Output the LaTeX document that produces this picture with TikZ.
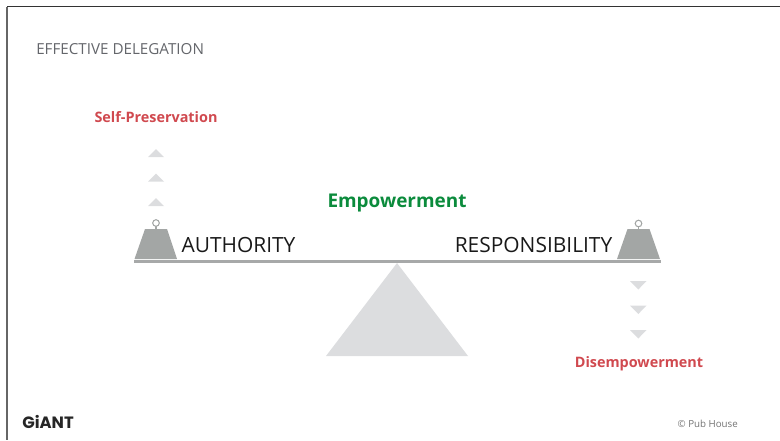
\documentclass[tikz,border=0pt]{standalone}
\usepackage{fontspec}
\setmainfont{Open Sans}
\newfontfamily\logofont{Poppins}
\definecolor{beamgray}{HTML}{A7A9A9}
\definecolor{weightgray}{HTML}{A3A6A5}
\definecolor{palegray}{HTML}{DCDDDF}
\definecolor{titlegray}{HTML}{64666B}
\definecolor{lossred}{HTML}{D0494F}
\definecolor{gaingreen}{HTML}{0B8B3C}
\tikzset{
  sidelabel/.style={inner sep=0pt,anchor=base,text=black!90,font=\fontsize{15.7}{18}\selectfont},
  lossl/.style={inner sep=0pt,anchor=base,text=lossred,font=\fontsize{10.8}{13}\selectfont\bfseries},
  weightshape/.style={fill=weightgray,draw=none},
  ringshape/.style={draw=weightgray,line width=0.8pt,fill=white},
  marker/.style={fill=palegray,draw=none}
}
\begin{document}
\begin{tikzpicture}[x=0.75pt,y=-0.75pt]
    \useasboundingbox (0,0) rectangle (780,440);

    % frame
    \draw[black!80,line width=1pt] (7,6.5) -- (780,6.5);
    \draw[black!60,line width=1pt] (7,6.5) -- (7,440);

    \node[inner sep=0pt,anchor=base west,text=titlegray,font=\fontsize{11.4}{13}\selectfont] (title) at (36,54) {EFFECTIVE DELEGATION};

    % scale
    \fill[palegray] (397,263) -- (468,356) -- (326,356) -- cycle;
    \draw[beamgray,line width=1.9pt] (134,261.5) -- (661,261.5);

    % left weight
    \draw[weightgray,line width=0.8pt] (156,226) -- (156,229);
    \draw[ringshape] (156,223) circle (3.3);
    \fill[weightshape] (145,229) -- (167,229) -- (177,259) -- (134.5,259) -- cycle;
    % right weight
    \draw[weightgray,line width=0.8pt] (638.5,226) -- (638.5,229);
    \draw[ringshape] (638.5,223.5) circle (3.3);
    \fill[weightshape] (627.5,229) -- (649.5,229) -- (660,259) -- (617,259) -- cycle;

    \foreach \y in {149,173.5,198} {
        \fill[marker] (156,\y) -- (164,\y+8) -- (148,\y+8) -- cycle;
    }
    \foreach \y in {281,305.5,330} {
        \fill[marker] (630,\y) -- (646.5,\y) -- (638.3,\y+8.5) -- cycle;
    }

    \node[sidelabel] (authority) at (238.5,252) {AUTHORITY};
    \node[sidelabel] (responsibility) at (533.5,252) {RESPONSIBILITY};
    \node[inner sep=0pt,anchor=base,text=gaingreen,font=\fontsize{14.2}{17}\selectfont\bfseries] (empowerment) at (397,207.5) {Empowerment};
    \node[lossl] (selfpres) at (156,122) {Self-Preservation};
    \node[lossl] (disemp) at (639,367) {Disempowerment};

    \node[inner sep=0pt,anchor=base west,text=black!85,font=\logofont\fontsize{12.3}{14}\selectfont\bfseries] (logo) at (22,428) {GiANT};
    \node[inner sep=0pt,anchor=base east,text=black!55,font=\fontsize{7.3}{9}\selectfont] (pubhouse) at (738,427) {© Pub House};
\end{tikzpicture}
\end{document}
